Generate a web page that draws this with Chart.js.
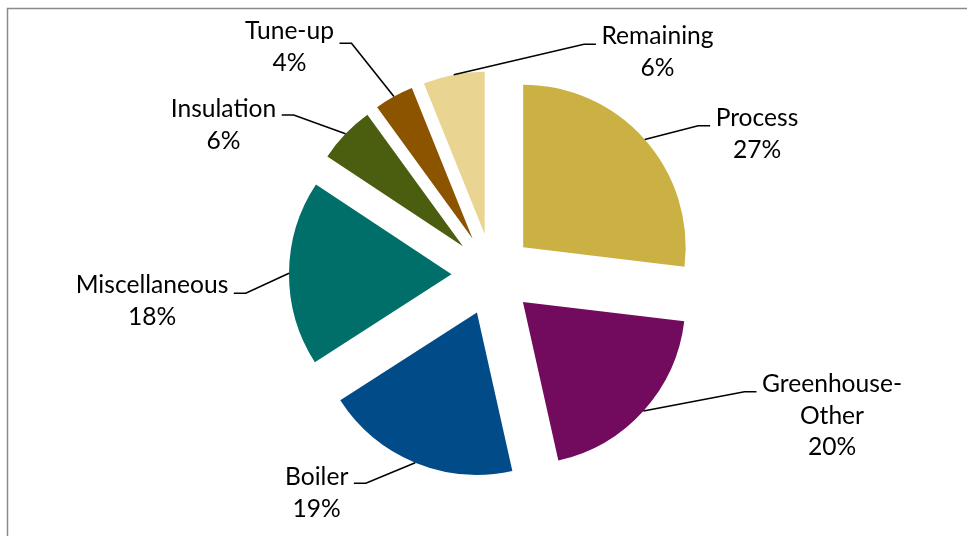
<!DOCTYPE html>
<html><head><meta charset="utf-8">
<script src="https://cdn.jsdelivr.net/npm/chart.js@4.4.1/dist/chart.umd.min.js"></script>
<style>html,body{margin:0;padding:0;background:#fff;} #wrap{position:relative;width:967px;height:536px;}</style>
</head><body><div id="wrap"><canvas id="c"></canvas></div>
<script>
// ---- data ----
const categories = ['Process','Greenhouse-Other','Boiler','Miscellaneous','Insulation','Tune-up','Remaining'];
const shares = [26.9, 19.6, 19.4, 18.4, 5.7, 3.9, 6.1];
const labelLines = [['Process'],['Greenhouse-','Other'],['Boiler'],['Miscellaneous'],['Insulation'],['Tune-up'],['Remaining']];

// ---- style / layout ----
const sliceColors = ['#CBB043','#720A5E','#004B88','#006F6A','#4B5E10','#8D5400','#E9D591'];
const EXPLODE = 41;
const RADIUS = 162.5;
const FONT = '24.6px Lato';
const LINE_H = 31.8;
const labelLayout = [
  {cx:757,   by:126,   ly:125.7, side:'left'},
  {cx:832,   by:391.7, ly:391.7, side:'left'},
  {cx:316.7, by:485,   ly:483.3, side:'right'},
  {cx:152,   by:293.3, ly:293.3, side:'right'},
  {cx:223.5, by:117.3, ly:115,   side:'right'},
  {cx:289.5, by:39.3,  ly:43.3,  side:'right'},
  {cx:657.5, by:44.3,  ly:44.3,  side:'left'}
];

const borderPlugin = {
  id:'frame',
  beforeDraw(chart){
    const ctx = chart.ctx;
    ctx.save();
    ctx.strokeStyle = '#8a8a8a';
    ctx.lineWidth = 1.5;
    ctx.strokeRect(7.5, 8.5, 1200, 800);
    ctx.restore();
  }
};

const explodePlugin = {
  id:'explode',
  beforeDatasetDraw(chart, args){
    const ctx = chart.ctx;
    args.meta.data.forEach(arc => {
      const mid = (arc.startAngle + arc.endAngle) / 2;
      ctx.save();
      ctx.translate(Math.cos(mid) * EXPLODE, Math.sin(mid) * EXPLODE);
      arc.draw(ctx, chart.chartArea);
      ctx.restore();
    });
    return false;
  }
};

const labelPlugin = {
  id:'sliceLabels',
  afterDatasetsDraw(chart){
    const ctx = chart.ctx;
    const meta = chart.getDatasetMeta(0);
    const total = shares.reduce((a,b)=>a+b,0);
    ctx.save();
    ctx.font = FONT;
    ctx.fillStyle = '#000';
    ctx.strokeStyle = '#000';
    ctx.lineWidth = 1.6;
    ctx.textAlign = 'center';
    ctx.textBaseline = 'alphabetic';
    meta.data.forEach((arc, i) => {
      const mid = (arc.startAngle + arc.endAngle) / 2;
      const r = arc.outerRadius + EXPLODE;
      const ax = arc.x + Math.cos(mid) * r, ay = arc.y + Math.sin(mid) * r;
      const L = labelLayout[i];
      const lines = [...labelLines[i], Math.round(shares[i] / total * 100) + '%'];
      const w = Math.max(...lines.map(s => ctx.measureText(s).width));
      const x0 = L.side === 'left' ? L.cx - w/2 - 5.5 : L.cx + w/2 + 5.5;
      const x1 = L.side === 'left' ? x0 - 12 : x0 + 12;
      ctx.beginPath();
      ctx.moveTo(x0, L.ly); ctx.lineTo(x1, L.ly); ctx.lineTo(ax, ay);
      ctx.stroke();
      lines.forEach((s, k) => ctx.fillText(s, L.cx, L.by + k * LINE_H));
    });
    ctx.restore();
  }
};

new Chart(document.getElementById('c'), {
  type: 'pie',
  data: {
    labels: categories,
    datasets: [{ data: shares, backgroundColor: sliceColors, borderWidth: 0 }]
  },
  options: {
    responsive: true,
    maintainAspectRatio: false,
    animation: false,
    radius: RADIUS,
    layout: { padding: { left: 19, right: 1, top: 13, bottom: 0 } },
    plugins: { legend: { display: false }, tooltip: { enabled: false } },
    events: []
  },
  plugins: [borderPlugin, explodePlugin, labelPlugin]
});
</script>
</body></html>
